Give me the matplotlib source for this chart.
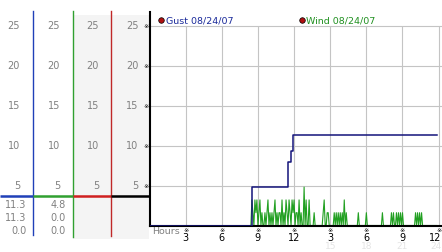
import matplotlib
matplotlib.use("Agg")
from matplotlib import pyplot as plt
from matplotlib import transforms
from matplotlib.patches import Rectangle

# gust readings (hours, mph), drawn as steps
gust_t = [0.0, 8.49, 11.5, 11.73, 11.94, 23.87]
gust_v = [0.0, 4.8, 8.0, 9.3, 11.3, 11.3]

# wind readings every 5 minutes, starting 8:25
wind_start = 8 + 25 / 60
wind_v = [
    0, 3.2, 1.6, 0, 3.2, 1.6, 3.2,                      # 8:25 - 8:55
    0, 1.6, 3.2, 0, 1.6, 0, 0, 1.6, 0, 1.6, 3.2, 0,     # 9
    1.6, 0, 1.6, 0, 1.6, 3.2, 0, 1.6, 0, 1.6, 1.6, 0,   # 10
    3.2, 0, 1.6, 0, 3.2, 1.6, 0, 3.2, 1.6, 0, 3.2, 1.6, # 11
    3.2, 0, 1.6, 1.6, 0, 3.2, 0, 1.6, 0, 0, 4.8, 0,     # 12
    3.2, 0, 0, 3.2, 0, 0, 0, 0, 1.6, 0, 0, 0,           # 13
    0, 0, 0, 0, 0, 1.6, 3.2, 0, 0, 1.6, 1.6, 0,         # 14
    0, 0, 0, 0, 1.6, 0, 1.6, 0, 1.6, 0, 1.6, 0,         # 15
    1.6, 0, 3.2, 0, 1.6, 0, 0, 0, 0, 0, 0, 0,           # 16
    0, 0, 0, 0, 1.6, 0, 0, 0, 0, 0, 0, 0,               # 17
    1.6, 0, 0, 0, 0, 0, 0, 0, 0, 0, 0, 0,               # 18
    0, 0, 0, 0, 1.6, 0, 0, 0, 0, 0, 0, 0,               # 19
    0, 1.6, 0, 1.6, 0, 0, 1.6, 0, 1.6, 0, 1.6, 0,       # 20
    1.6, 0, 0, 0, 0, 0, 0, 0, 0, 0, 0, 0,               # 21
    0, 1.6, 0, 1.6, 0, 1.6, 0, 1.6, 0, 0, 0, 0,         # 22
    0, 0, 0, 0, 0, 0, 0, 0, 0, 0, 0,                    # 23
]
wind_t = [wind_start + i / 12 for i in range(len(wind_v))]

y_ticks = [5, 10, 15, 20, 25]
hour_ticks = [3, 6, 9, 12, 15, 18, 21, 24]
hour_labels = ["3", "6", "9", "12", "3", "6", "9", "12"]
day_ticks = [15, 18, 21, 24]
gust_stats = ["11.3", "11.3", "0.0"]
wind_stats = ["4.8", "0.0", "0.0"]

W, H = 442, 253
fig = plt.figure(figsize=(W / 100, H / 100), dpi=100)

# background layer in pixel coordinates
bg = fig.add_axes([0, 0, 1, 1])
bg.set_xlim(0, W)
bg.set_ylim(H, 0)
bg.axis("off")

y0, ytop = 226.5, 13
ax = fig.add_axes([149.5 / W, (H - y0) / H, (W - 149.5) / W, (y0 - ytop) / H])
ax.set_xlim(0, 24.28)
ax.set_ylim(0, (y0 - ytop) / 8)
ax.patch.set_alpha(0)

bg.add_patch(Rectangle((73, 16), 76, 224, fc="#f4f4f4", ec="none"))
bg.plot([33.3, 33.3], [12, 236], color="#2040b8", lw=1)
bg.plot([72.5, 72.5], [12, 238], color="#30a030", lw=1)
bg.plot([111.3, 111.3], [12, 237], color="#c02828", lw=1)
for x1, x2, c in [(0, 33.3, "#2040b8"), (33.3, 72.5, "#30a030"),
                  (72.5, 111.3, "#d02020"), (111.3, 149.5, "black")]:
    bg.plot([x1, x2], [197, 197], color=c, lw=1.8, solid_capstyle="butt")

col_y = transforms.blended_transform_factory(bg.transData, ax.transData)
for v in y_ticks:
    for xr in [20, 60, 99, 138.5]:
        bg.text(xr, v, str(v), transform=col_y, ha="right", va="center",
                fontsize=7, color="#808080")
    ax.text(146, v, "\u203b", transform=col_y, ha="center", va="center",
            fontsize=4.5, color="black", clip_on=False)

for i, (g, w) in enumerate(zip(gust_stats, wind_stats)):
    yy = 205 + i * 13.2
    bg.text(26.5, yy, g, ha="right", va="center", fontsize=7, color="#808080")
    bg.text(66, yy, w, ha="right", va="center", fontsize=7, color="#808080")

# legend
bg.plot(161, 20.8, "o", ms=4, mfc="#b01010", mec="black", mew=0.5)
bg.text(165.5, 20.8, "Gust 08/24/07", ha="left", va="center", fontsize=6.8,
        color="#1a2a9a")
bg.plot(302, 20.8, "o", ms=4, mfc="#b01010", mec="black", mew=0.5)
bg.text(306.5, 20.8, "Wind 08/24/07", ha="left", va="center", fontsize=6.8,
        color="#209020")

# grid
ax.hlines(y_ticks, 0, 24.28, color="#c4c4c4", lw=0.8)
ax.vlines(hour_ticks, 0, 25, color="#c4c4c4", lw=0.8)

ax.step(gust_t, gust_v, where="post", color="#14147a", lw=1.1, zorder=3)
ax.plot(wind_t, wind_v, color="#22a022", lw=0.8, zorder=2)

for s in ["top", "right"]:
    ax.spines[s].set_visible(False)
ax.spines["left"].set_linewidth(1.5)
ax.spines["bottom"].set_linewidth(1.5)
ax.set_xticks([])
ax.set_yticks([])

hx = transforms.blended_transform_factory(ax.transData, bg.transData)
bg.text(152, 232, "Hours", ha="left", va="center", fontsize=6.8, color="#808080")
for h, lab in zip(hour_ticks, hour_labels):
    ax.text(h, 231, "\u203b", transform=hx, ha="center", va="center",
            fontsize=4.5, color="black", clip_on=False)
    if h == hour_ticks[-1]:
        bg.text(441.5, 238.5, lab, ha="right", va="center", fontsize=7,
                color="black")
    else:
        ax.text(h, 238.5, lab, transform=hx, ha="center", va="center",
                fontsize=7, color="black", clip_on=False)
for h in day_ticks:
    if h == day_ticks[-1]:
        bg.text(441.5, 247, str(h), ha="right", va="center", fontsize=6.5,
                color="#e4e4e4")
    else:
        ax.text(h, 247, str(h), transform=hx, ha="center", va="center",
                fontsize=6.5, color="#e4e4e4", clip_on=False)

fig.savefig("out.png", dpi=100)
